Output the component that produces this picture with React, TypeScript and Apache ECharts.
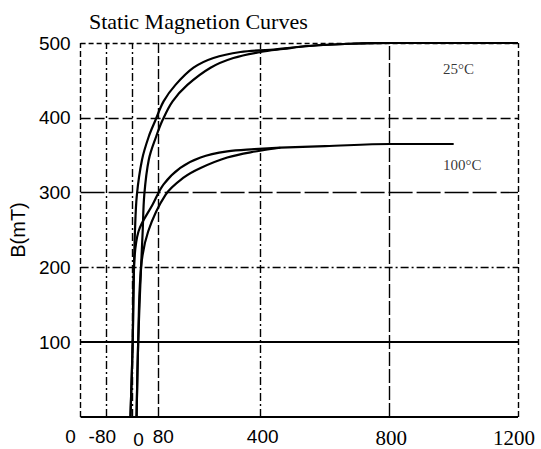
import React, { useEffect, useRef } from "react";
import * as echarts from "echarts";

// ---- data ----
const titleText = "Static Magnetion Curves";
const yName = "B(mT)";

const xTickValues = [-160, -80, 0, 80, 400, 800, 1200];
const xTickLabels = ["0", "-80", "0", "80", "400", "800", "1200"];
const yTickValues = [100, 200, 300, 400, 500];

// 25°C curve pair (H, B)
const h25a = [-5, 2, 6, 9, 15, 31, 52, 73, 98, 135, 191, 253, 337, 430, 550, 680, 800, 1200];
const b25a = [0, 100, 200, 248, 297, 344, 375, 397, 422, 444, 467, 480, 488, 491, 496, 499, 500, 500];
const h25b = [14, 19, 28, 33, 38, 52, 75, 95, 126, 172, 244, 315, 399, 470, 550, 680, 800, 1200];
const b25b = [0, 100, 200, 248, 297, 344, 375, 397, 422, 444, 467, 480, 488, 492, 496, 499, 500, 500];

// 100°C curve pair (H, B)
const h100a = [-5, 2, 6, 20, 64, 98, 150, 213, 296, 380, 461, 600, 803, 1000];
const b100a = [0, 100, 200, 248, 284, 311, 333, 347, 355, 358, 360, 362, 365, 365];
const h100b = [14, 19, 28, 50, 104, 160, 213, 296, 383, 461];
const b100b = [0, 100, 200, 248, 297, 320, 333, 347, 355, 360];

const curveLabels = ["25°C", "100°C"];
const curveLabelH = [967, 967];
const curveLabelB = [465, 337];

// gridlines (values) and their dash styles
const vGrid = [-160, -80, 0, 80, 400, 800, 1200];
const vGridDash: any[] = [[6, 3], [8, 3, 2, 3], [8, 3, 2, 3], [10, 3], [8, 3, 2, 3], [14, 3], [6, 3]];
const hGrid = [0, 100, 200, 300, 400, 500];
const hGridDash: any[] = ["solid", "solid", [8, 3, 2, 3], [24, 4], [10, 4], [5, 3]];

const zip = (xs: number[], ys: number[]) => xs.map((x, i) => [x, ys[i]]);

const xLabelRich: Record<string, any> = {
  s0: { padding: [0, 20, 0, 0] },
  s1: { padding: [0, 8, 0, 0] },
  s2: { padding: [3, 0, 0, 13] },
  s3: { padding: [0, 0, 0, 11] },
  s4: { padding: [0, 0, 0, 4] },
  s5: { padding: [0, 0, 0, 4], fontFamily: "Liberation Serif", fontSize: 21 },
  s6: { padding: [0, 8, 0, 0], fontFamily: "Liberation Serif", fontSize: 21 },
};

export default function App() {
  const ref = useRef<HTMLDivElement>(null);

  useEffect(() => {
    if (!ref.current) return;
    const chart = echarts.init(ref.current, undefined, { renderer: "svg" });

    const curveStyle = { color: "#000", width: 2.2 };
    const mkCurve = (name: string, d: number[][], extra: any = {}) => ({
      name,
      type: "line",
      data: d,
      smooth: 0.35,
      showSymbol: false,
      symbol: "none",
      lineStyle: curveStyle,
      silent: true,
      ...extra,
    });

    const gridLines = [
      ...vGrid.map((v, i) => ({
        xAxis: v,
        lineStyle: { color: "#000", width: 1.4, type: vGridDash[i] },
      })),
      ...hGrid.map((v, i) => ({
        yAxis: v,
        lineStyle: { color: "#000", width: i === 1 || i === 0 ? 1.8 : 1.4, type: hGridDash[i] },
      })),
    ];

    chart.setOption({
      animation: false,
      backgroundColor: "#fff",
      title: {
        text: titleText,
        left: 84,
        top: 5,
        textStyle: {
          fontFamily: "Liberation Serif",
          fontSize: 22,
          fontWeight: "normal",
          color: "#000",
        },
      },
      grid: { left: 80, right: 23, top: 43, bottom: 31 },
      xAxis: {
        type: "value",
        min: -160,
        max: 1200,
        axisLine: { show: false },
        axisTick: { show: false },
        splitLine: { show: false },
        axisLabel: {
          customValues: xTickValues,
          margin: 10,
          color: "#000",
          fontFamily: "Liberation Sans",
          fontSize: 19,
          formatter: (v: number) => {
            const i = xTickValues.indexOf(v);
            return i < 0 ? "" : `{s${i}|${xTickLabels[i]}}`;
          },
          rich: xLabelRich,
        },
      },
      yAxis: {
        type: "value",
        min: 0,
        max: 500,
        interval: 100,
        name: yName,
        nameLocation: "middle",
        nameRotate: 90,
        nameGap: 52,
        nameTextStyle: { fontFamily: "Liberation Sans", fontSize: 20, color: "#000" },
        axisLine: { show: false },
        axisTick: { show: false },
        splitLine: { show: false },
        axisLabel: {
          customValues: yTickValues,
          margin: 10,
          color: "#000",
          fontFamily: "Liberation Sans",
          fontSize: 19,
        },
      },
      series: [
        mkCurve("25a", zip(h25a, b25a), {
          markLine: {
            silent: true,
            symbol: ["none", "none"],
            label: { show: false },
            data: gridLines,
          },
        }),
        mkCurve("25b", zip(h25b, b25b)),
        mkCurve("100a", zip(h100a, b100a)),
        mkCurve("100b", zip(h100b, b100b)),
        {
          name: "labels",
          type: "scatter",
          symbolSize: 0,
          silent: true,
          data: curveLabels.map((t, i) => ({ name: t, value: [curveLabelH[i], curveLabelB[i]] })),
          label: {
            show: true,
            position: "right",
            distance: 0,
            formatter: "{b}",
            fontFamily: "Liberation Serif",
            fontSize: 15,
            color: "#000",
          },
        },
      ],
    });

    return () => chart.dispose();
  }, []);

  return (
    <div
      ref={ref}
      style={{ position: "fixed", left: 0, top: 0, width: 541, height: 449, background: "#fff" }}
    />
  );
}
